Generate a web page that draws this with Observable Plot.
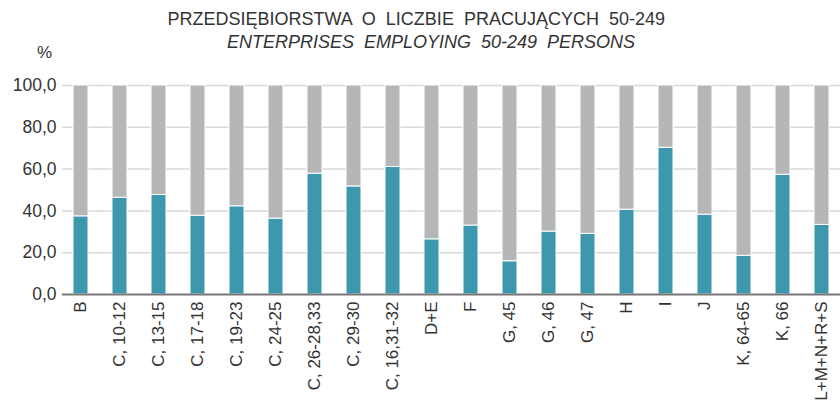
<!DOCTYPE html>
<html><head><meta charset="utf-8">
<script src="https://cdn.jsdelivr.net/npm/d3@7"></script>
<script src="https://cdn.jsdelivr.net/npm/@observablehq/plot@0.6"></script>
<style>
body{margin:0;background:#fff;font-family:"Liberation Sans",Arial,sans-serif;}
#wrap{position:relative;width:840px;height:409px;}
.t{position:absolute;color:#333;font-size:18px;word-spacing:5px;white-space:nowrap;}
#pct{position:absolute;left:37px;top:43px;font-size:17px;color:#333;}
</style></head>
<body><div id="wrap">
<div class="t" id="t1" style="top:9px">PRZEDSIĘBIORSTWA O LICZBIE PRACUJĄCYCH 50-249</div>
<div class="t" id="t2" style="top:32px;font-style:italic">ENTERPRISES EMPLOYING 50-249 PERSONS</div>
<div id="pct">%</div>
</div>
<script>
const categories = ["B","C, 10-12","C, 13-15","C, 17-18","C, 19-23","C, 24-25","C, 26-28,33","C, 29-30","C, 16,31-32","D+E","F","G, 45","G, 46","G, 47","H","I","J","K, 64-65","K, 66","L+M+N+R+S"];
const values = [37.4,46.3,47.6,37.7,42.2,36.3,57.8,51.7,61.0,26.4,33.0,15.9,30.1,29.0,40.6,70.2,38.2,18.5,57.3,33.3];
const yTicks = [0,20,40,60,80,100];

const data = [];
categories.forEach((c,i)=>{
  data.push({cat:c, part:"a", v:values[i]});
  data.push({cat:c, part:"b", v:100-values[i]});
});

const fmt = d => d.toFixed(1).replace(".", ",");

const chart = Plot.plot({
  width:840, height:409,
  marginTop:85, marginBottom:115, marginLeft:62, marginRight:0,
  style:{fontFamily:"Liberation Sans, Arial, sans-serif", color:"#333", background:"transparent"},
  x:{domain:categories, paddingInner:0.62, paddingOuter:0.28, label:null},
  y:{domain:[0,100], label:null},
  color:{domain:["a","b"], range:["#3d97ad","#b5b6b8"]},
  marks:[
    Plot.ruleY(yTicks.filter(d=>d>0), {stroke:"#d9d9d9", strokeWidth:1.5}),
    Plot.barY(data, {x:"cat", y:"v", fill:"part", stroke:"white", strokeWidth:1, order:["a","b"]}),
    Plot.ruleY([0], {stroke:"#777", strokeWidth:2}),
    Plot.axisY({ticks:yTicks, tickFormat:fmt, tickSize:0, tickPadding:6, fontSize:17.5, label:null}),
    Plot.axisX({tickRotate:-90, tickSize:0, tickPadding:7, fontSize:17, label:null})
  ]
});
document.getElementById("wrap").appendChild(chart);
chart.style.position="absolute"; chart.style.left="0"; chart.style.top="0";
// center title lines on reference centers
const t1 = document.getElementById("t1"), t2 = document.getElementById("t2");
t1.style.left = (416 - t1.offsetWidth/2) + "px";
t2.style.left = (431 - t2.offsetWidth/2) + "px";
</script>
</body></html>
